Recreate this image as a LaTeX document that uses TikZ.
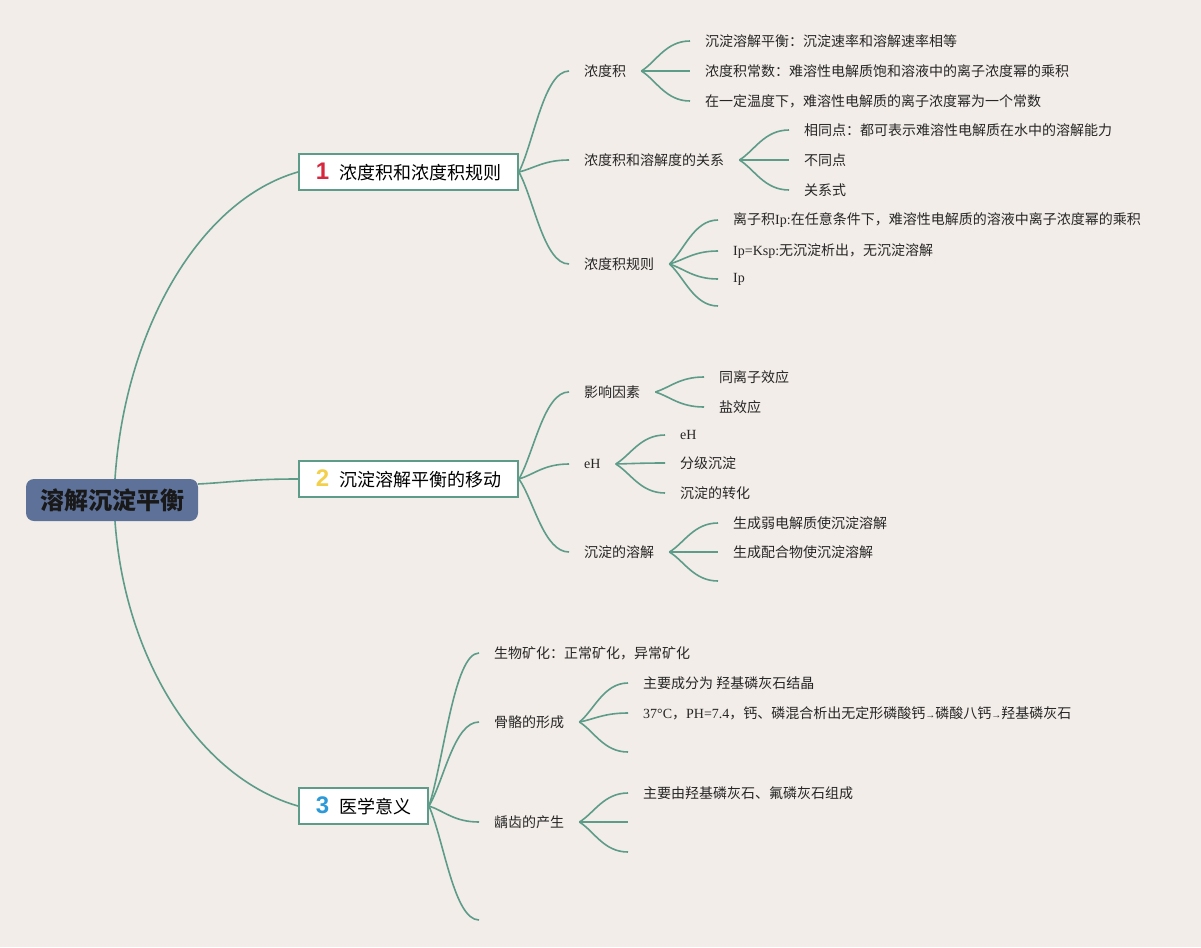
\documentclass[tikz,border=0pt]{standalone}
\usepackage{fontspec}
\usepackage{xcolor}
\usetikzlibrary{calc}
\setmainfont{Noto Sans CJK SC}
\newfontfamily\lat{Liberation Serif}
\newfontfamily\numfont{Liberation Sans}
\definecolor{bgc}{HTML}{F2EDE8}
\definecolor{lnc}{HTML}{5E9C8A}
\definecolor{rootc}{HTML}{5E7299}
\definecolor{onec}{HTML}{D7263D}
\definecolor{twoc}{HTML}{F2D04B}
\definecolor{threec}{HTML}{2C9AD9}
% 分支曲线:起点朝向终点,终点水平进入
\def\branch#1#2{\draw[lnk] let \p1=(#1), \p2=(#2) in (\p1)
	.. controls ($(\p1)!0.3!(\p2)$) and ({0.5*\x1+0.5*\x2},\y2) .. (\p2);}
\def\tnum#1#2{{\numfont\bfseries\fontsize{24}{24}\selectfont\color{#1}#2}\hspace{10pt}}

\begin{document}
\begin{tikzpicture}[x=1pt,y=-1pt,
	lnk/.style={draw=lnc,line width=1.6pt},
	rootbox/.style={fill=rootc,rounded corners=8pt,minimum height=42pt,inner xsep=14pt,
		font=\fontsize{24}{24}\selectfont\bfseries,text=black!90},
	topic/.style={draw=lnc,line width=1.6pt,fill=white,minimum height=36pt,inner xsep=17pt,
		font=\fontsize{18}{18}\selectfont,anchor=west},
	sub/.style={inner xsep=15pt,inner ysep=2pt,font=\fontsize{14}{14}\selectfont,
		anchor=west,text=black!85}]
	\fill[bgc] (0,0) rectangle (1201,947);
	\useasboundingbox (0,0) rectangle (1201,947);
	
	%中心主题与三个分支主题
	\node[rootbox] (root) at (112,500) {溶解沉淀平衡};
	\node[topic] (zt1) at (298,172) {\tnum{onec}{1}浓度积和浓度积规则};
	\node[topic] (zt2) at (298,479) {\tnum{twoc}{2}沉淀溶解平衡的移动};
	\node[topic] (zt3) at (298,806) {\tnum{threec}{3}医学意义};
	\coordinate (r1) at ([xshift=3pt]root.north);
	\coordinate (r2) at ([yshift=16pt]root.east);
	\coordinate (r3) at ([xshift=3pt]root.south);
	\draw[lnk] (r1) .. controls +(10,-150) and +(-98,28) .. (zt1.west);
	\branch{r2}{zt2.west}
	\draw[lnk] (r3) .. controls +(10,140) and +(-98,-28) .. (zt3.west);
	
	%第二层
	\node[sub] (nd) at (569,71) {浓度积};
	\node[sub] (gx) at (569,160) {浓度积和溶解度的关系};
	\node[sub] (gz) at (569,264) {浓度积规则};
	\node[sub] (yx) at (569,392) {影响因素};
	\node[sub] (eh) at (569,464) {\lat eH};
	\node[sub] (rj) at (569,552) {沉淀的溶解};
	\node[sub] (kh) at (479,653) {生物矿化：正常矿化，异常矿化};
	\node[sub] (gg) at (479,722) {骨骼的形成};
	\node[sub] (qc) at (479,822) {龋齿的产生};
	\coordinate (kong) at (479,920);
	
	%第三层
	\node[sub] (nd1) at (690,41) {沉淀溶解平衡：沉淀速率和溶解速率相等};
	\node[sub] (nd2) at (690,71) {浓度积常数：难溶性电解质饱和溶液中的离子浓度幂的乘积};
	\node[sub] (nd3) at (690,101) {在一定温度下，难溶性电解质的离子浓度幂为一个常数};
	\node[sub] (gx1) at (789,130) {相同点：都可表示难溶性电解质在水中的溶解能力};
	\node[sub] (gx2) at (789,160) {不同点};
	\node[sub] (gx3) at (789,190) {关系式};
	\node[sub] (gz1) at (718,220) {离子积{\lat Ip:}在任意条件下，难溶性电解质的溶液中离子浓度幂的乘积};
	\node[sub] (gz2) at (718,251) {{\lat Ip=Ksp:}无沉淀析出，无沉淀溶解};
	\node[sub] (gz3) at (718,279) {\lat Ip};
	\coordinate (gz4) at (718,306);
	\node[sub] (yx1) at (704,377) {同离子效应};
	\node[sub] (yx2) at (704,407) {盐效应};
	\node[sub] (eh1) at (665,435) {\lat eH};
	\node[sub] (eh2) at (665,463) {分级沉淀};
	\node[sub] (eh3) at (665,493) {沉淀的转化};
	\node[sub] (rj1) at (718,523) {生成弱电解质使沉淀溶解};
	\node[sub] (rj2) at (718,552) {生成配合物使沉淀溶解};
	\coordinate (rj3) at (718,581);
	\node[sub] (gg1) at (628,683) {主要成分为 羟基磷灰石结晶};
	\node[sub] (gg2) at (628,713) {{\lat 37°C}，{\lat PH=7.4}，钙、磷混合析出无定形磷酸钙{\lat\fontsize{10}{10}\selectfont →}磷酸八钙{\lat\fontsize{10}{10}\selectfont →}羟基磷灰石};
	\coordinate (gg3) at (628,752);
	\node[sub] (qc1) at (628,793) {主要由羟基磷灰石、氟磷灰石组成};
	\coordinate (qc2) at (628,822);
	\coordinate (qc3) at (628,852);
	
	%连线
	\foreach \pa/\ch in {zt1/nd,zt1/gx,zt1/gz,zt2/yx,zt2/eh,zt2/rj,zt3/kh,zt3/gg,zt3/qc,
		nd/nd1,nd/nd2,nd/nd3,gx/gx1,gx/gx2,gx/gx3,gz/gz1,gz/gz2,gz/gz3,
		yx/yx1,yx/yx2,eh/eh1,eh/eh2,eh/eh3,rj/rj1,rj/rj2,gg/gg1,gg/gg2,qc/qc1}
		{\branch{\pa.east}{\ch.west}}
	\foreach \pa/\ch in {zt3/kong,gz/gz4,rj/rj3,gg/gg3,qc/qc2,qc/qc3}
		{\branch{\pa.east}{\ch}}
\end{tikzpicture}
\end{document}
